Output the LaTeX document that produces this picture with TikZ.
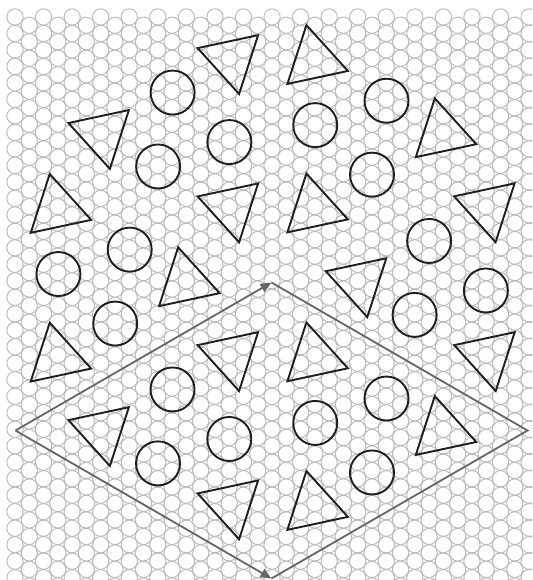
\documentclass[tikz,border=0pt]{standalone}
\usetikzlibrary{arrows.meta}
\begin{document}
\begin{tikzpicture}[x=1pt,y=-1pt,
  bgdisk/.style={draw=black!27,line width=0.95pt},
  motif/.style={draw=black!88,line width=1.9pt,line join=miter},
  cell/.style={draw=black!60,line width=1.8pt},
  celltip/.style={-{Triangle[length=11pt,width=9pt]}}]
\useasboundingbox (0,0) rectangle (532,580);
\fill[white] (0,0) rectangle (532,580);
% background: hexagonally packed small disks
\begin{scope}
\clip (0,0) rectangle (532,580);
\foreach \k in {0,...,37} {
  \pgfmathsetmacro{\xx}{15+14.28*\k}
  \pgfmathsetmacro{\yy}{17+8.245*mod(\k,2)}
  \foreach \j in {0,...,35} {
    \draw[bgdisk] (\xx,\yy+16.49*\j) circle[radius=8.15pt];
  }
}
\end{scope}
% down-type triangles
\foreach \cx/\cy in {231.6/59.1, 102.4/134, 231.6/207.4, 488.1/207.3, 359.8/282.2,
                     231.6/356.1, 488.2/356.1, 102.4/431.1, 231.6/504.4} {
  \draw[motif,shift={(\cx,\cy)}] (77.9:35.7) -- (197.9:35.7) -- (317.9:35.7) -- cycle;
}
% up-type triangles
\foreach \cx/\cy in {313.9/60, 442.3/133.2, 57.2/208.9, 313.9/208.4, 185.6/282.2,
                     57.2/357.6, 313.9/357.3, 442.3/431, 313.9/505.9} {
  \draw[motif,shift={(\cx,\cy)}] (17.9:35.7) -- (137.9:35.7) -- (257.9:35.7) -- cycle;
}
% A-type circle triples
\foreach \cx/\cy in {186.7/133.7, 443.2/282.1, 186.6/430.6} {
  \foreach \t in {11.1,131.1,251.1} {
    \draw[motif,shift={(\cx,\cy)}] (\t:43.5) circle[radius=22pt];
  }
}
% B-type circle triples
\foreach \cx/\cy in {357.9/133.5, 101.1/282.4, 357.9/431.3} {
  \foreach \t in {71.1,191.1,311.1} {
    \draw[motif,shift={(\cx,\cy)}] (\t:43.5) circle[radius=22pt];
  }
}
% unit cell
\coordinate (L) at (15.5,430.5);
\coordinate (T) at (271.5,282.5);
\coordinate (R) at (527.5,430.5);
\coordinate (B) at (271.5,578.5);
\draw[cell] (T) -- (R) -- (B);
\draw[cell,celltip] (L) -- (T);
\draw[cell,celltip] (L) -- (B);
\end{tikzpicture}
\end{document}
